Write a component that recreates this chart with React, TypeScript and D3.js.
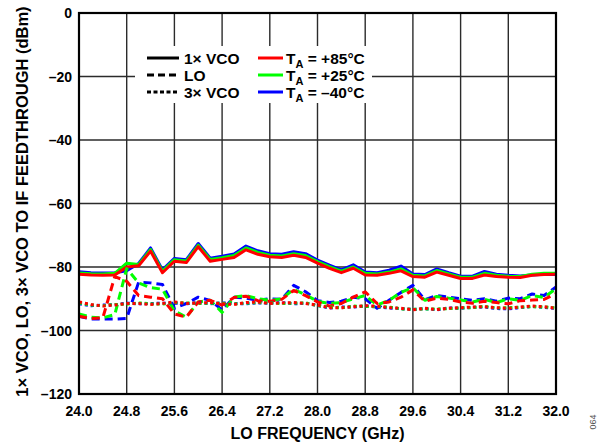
import React from "react";
import * as d3 from "d3";

const freqs = [24.0,24.2,24.4,24.6,24.8,25.0,25.2,25.4,25.6,25.8,26.0,26.2,26.4,26.6,26.8,27.0,27.2,27.4,27.6,27.8,28.0,28.2,28.4,28.6,28.8,29.0,29.2,29.4,29.6,29.8,30.0,30.2,30.4,30.6,30.8,31.0,31.2,31.4,31.6,31.8,32.0];

const vco1_85 = [-82.3,-82.5,-82.6,-82.5,-80.0,-79.6,-75.0,-81.8,-78.2,-78.6,-73.6,-78.2,-77.6,-77.0,-74.6,-76.0,-76.8,-77.0,-76.3,-77.0,-78.8,-80.4,-81.8,-80.4,-82.5,-82.6,-82.0,-81.2,-83.0,-83.2,-81.6,-82.6,-83.6,-83.6,-82.5,-83.0,-83.2,-83.3,-82.6,-82.4,-82.3];
const vco1_25 = [-81.9,-82.1,-82.2,-82.0,-78.8,-79.2,-74.5,-81.3,-77.7,-78.1,-73.1,-77.6,-77.1,-76.4,-74.0,-75.4,-76.3,-76.5,-75.8,-76.4,-78.3,-79.9,-81.3,-80.0,-82.0,-82.2,-81.6,-80.6,-82.6,-82.8,-81.1,-82.2,-83.2,-83.2,-82.0,-82.6,-82.9,-83.0,-82.3,-82.0,-82.0];
const vco1_m40 = [-81.5,-81.8,-81.9,-81.8,-81.2,-78.9,-74.0,-80.9,-77.3,-77.7,-72.6,-77.2,-76.6,-75.9,-73.4,-74.9,-75.8,-76.0,-75.2,-75.8,-77.8,-79.4,-80.9,-79.3,-81.6,-81.8,-81.0,-79.7,-82.2,-82.4,-80.6,-81.8,-82.9,-82.9,-81.4,-82.3,-82.6,-82.8,-82.5,-82.3,-82.4];

const lo_85 = [-95.5,-96.2,-96.0,-83.0,-84.5,-89.0,-89.5,-90.0,-94.8,-95.8,-91.0,-90.5,-92.0,-89.6,-89.2,-90.6,-90.8,-90.2,-87.4,-89.0,-91.0,-92.3,-91.5,-89.5,-87.8,-91.5,-91.0,-89.5,-87.2,-90.8,-89.8,-90.2,-91.0,-91.4,-90.8,-91.2,-91.6,-90.6,-90.4,-90.2,-88.4];
const lo_25 = [-94.8,-95.8,-96.0,-95.0,-80.5,-85.0,-86.5,-87.0,-93.8,-95.8,-91.0,-90.5,-94.3,-89.5,-89.0,-90.0,-90.5,-90.0,-87.0,-88.8,-90.8,-91.5,-91.2,-90.0,-89.0,-92.0,-90.5,-88.0,-86.5,-90.5,-89.3,-89.8,-90.4,-91.0,-90.2,-91.2,-90.0,-90.5,-89.0,-89.6,-86.8];
const lo_m40 = [-95.5,-96.4,-96.4,-96.4,-96.2,-84.8,-85.0,-85.5,-93.0,-91.5,-89.5,-90.5,-93.5,-89.5,-89.8,-90.5,-90.0,-90.2,-85.8,-87.8,-90.6,-91.2,-90.8,-89.5,-90.0,-93.0,-90.5,-88.0,-85.8,-90.3,-89.0,-89.5,-90.0,-90.5,-90.0,-90.8,-89.8,-90.0,-88.5,-89.0,-86.3];

const vco3_85 = [-91.0,-91.8,-92.3,-92.0,-91.5,-91.5,-91.8,-91.5,-91.0,-91.5,-91.3,-91.2,-91.6,-91.8,-91.2,-91.0,-91.5,-91.3,-91.2,-91.5,-92.0,-92.8,-92.8,-92.5,-92.2,-92.3,-92.8,-93.0,-93.5,-93.0,-93.4,-93.0,-92.8,-92.6,-92.5,-92.8,-93.0,-92.6,-92.3,-92.5,-93.0];
const vco3_25 = [-91.3,-92.0,-92.2,-91.8,-91.7,-91.3,-91.6,-91.7,-91.2,-91.3,-91.5,-91.4,-91.4,-91.6,-91.4,-91.2,-91.3,-91.5,-91.4,-91.3,-92.2,-92.6,-92.9,-92.3,-92.4,-92.5,-92.6,-93.2,-93.3,-93.2,-93.2,-93.1,-92.9,-92.8,-92.4,-92.9,-92.8,-92.7,-92.5,-92.6,-92.9];
const vco3_m40 = [-91.6,-92.2,-92.0,-91.9,-91.4,-91.6,-91.5,-91.4,-91.4,-91.6,-91.2,-91.6,-91.3,-91.5,-91.6,-91.3,-91.4,-91.2,-91.6,-91.4,-92.1,-92.9,-92.6,-92.6,-92.3,-92.6,-92.9,-93.1,-93.4,-93.1,-93.5,-92.9,-93.0,-92.7,-92.6,-93.1,-93.2,-92.8,-92.4,-92.7,-93.1];

const xTicks = [24.0,24.8,25.6,26.4,27.2,28.0,28.8,29.6,30.4,31.2,32.0];
const yTicks = [0,-20,-40,-60,-80,-100,-120];

const legendStyles = ["1× VCO","LO","3× VCO"];
const legendTemps = ["+85°C","+25°C","–40°C"];

const RED = "#ff0000";
const GREEN = "#00ff00";
const BLUE = "#0000ff";

const FONT = "Liberation Sans, Arial, Helvetica, sans-serif";

export default function App() {
  const x = d3.scaleLinear().domain([24, 32]).range([79, 556]);
  const y = d3.scaleLinear().domain([-120, 0]).range([394, 13]);
  const line = d3.line<number>().x((_, i) => x(freqs[i])).y((v) => y(v));

  const dashSolid = undefined;
  const dashLO = "8,5";
  const dashDot = "3,3";

  const series = [
    { v: vco1_m40, c: BLUE, d: dashSolid },
    { v: vco1_25, c: GREEN, d: dashSolid },
    { v: vco1_85, c: RED, d: dashSolid },
    { v: lo_m40, c: BLUE, d: dashLO },
    { v: lo_25, c: GREEN, d: dashLO },
    { v: lo_85, c: RED, d: dashLO },
    { v: vco3_m40, c: BLUE, d: dashDot },
    { v: vco3_25, c: GREEN, d: dashDot },
    { v: vco3_85, c: RED, d: dashDot },
  ];

  const legRows = [58, 75, 92];
  const tempColors = [RED, GREEN, BLUE];
  const styleDash = [dashSolid, "7,4", "4,2.5"];

  return (
    <svg width={603} height={444} style={{ position: "absolute", left: 0, top: 0, background: "#fff" }} fontFamily={FONT}>
      <rect x={0} y={0} width={603} height={444} fill="#fff" />
      {xTicks.map((t) => (
        <line key={"gx" + t} x1={x(t)} x2={x(t)} y1={y(0)} y2={y(-120)} stroke="#2b2b2b" strokeWidth={1.4} />
      ))}
      {yTicks.map((t) => (
        <line key={"gy" + t} x1={x(24)} x2={x(32)} y1={y(t)} y2={y(t)} stroke="#2b2b2b" strokeWidth={1.4} />
      ))}
      <rect x={135} y={46} width={237} height={57} fill="#fff" />
      {series.map((s, i) => (
        <path key={i} d={line(s.v) || ""} fill="none" stroke={s.c} strokeWidth={3} strokeDasharray={s.d} strokeLinejoin="round" />
      ))}
      <rect x={x(24)} y={y(0)} width={x(32) - x(24)} height={y(-120) - y(0)} fill="none" stroke="#000" strokeWidth={2.2} />
      {legendStyles.map((s, i) => (
        <g key={s}>
          <line x1={147} x2={179} y1={legRows[i]} y2={legRows[i]} stroke="#000" strokeWidth={3} strokeDasharray={styleDash[i]} />
          <text x={184} y={legRows[i] + 5.5} fontSize={15.5} fontWeight="bold" fill="#000">{s}</text>
        </g>
      ))}
      {legendTemps.map((t, i) => (
        <g key={t}>
          <line x1={258} x2={283} y1={legRows[i]} y2={legRows[i]} stroke={tempColors[i]} strokeWidth={3} />
          <text x={286} y={legRows[i] + 5.5} fontSize={15.5} fontWeight="bold" fill="#000">
            T<tspan fontSize={11} dy={4}>A</tspan><tspan dy={-4}> = {t}</tspan>
          </text>
        </g>
      ))}
      {xTicks.map((t) => (
        <text key={"tx" + t} x={x(t)} y={416} textAnchor="middle" fontSize={14} fontWeight="bold" fill="#000">{t.toFixed(1)}</text>
      ))}
      {yTicks.map((t) => (
        <text key={"ty" + t} x={72} y={y(t) + 5} textAnchor="end" fontSize={14} fontWeight="bold" fill="#000">{t === 0 ? "0" : "–" + Math.abs(t)}</text>
      ))}
      <text x={(x(24) + x(32)) / 2} y={439} textAnchor="middle" fontSize={16} fontWeight="bold" fill="#000">LO FREQUENCY (GHz)</text>
      <text transform="translate(28,201.5) rotate(-90)" textAnchor="middle" fontSize={16.5} fontWeight="bold" fill="#000">1× VCO, LO, 3× VCO TO IF FEEDTHROUGH (dBm)</text>
      <text transform="translate(596,422) rotate(-90)" textAnchor="middle" fontSize={9} fill="#555">064</text>
    </svg>
  );
}
